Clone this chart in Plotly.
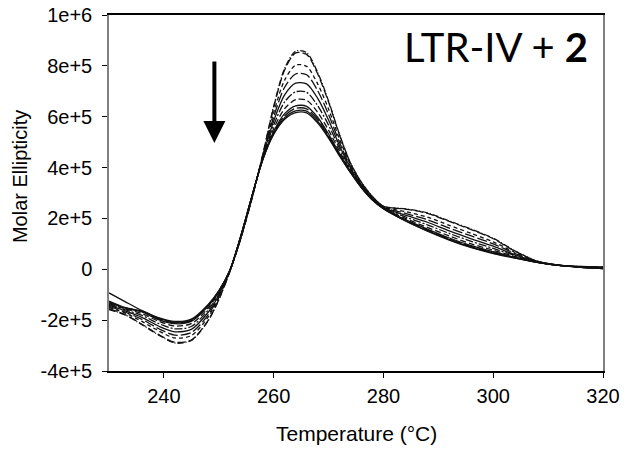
import plotly.graph_objects as go

# Temperature grid (x values)
temperature = [230, 233, 236, 239, 242, 245, 248, 250, 252, 254, 256, 258, 260, 262,
               264, 266, 268, 270, 272, 274, 276, 278, 280, 284, 288, 292, 296, 300,
               304, 308, 312, 316, 320]

# Molar ellipticity series, in units of 1e3
s0 = [-158, -180, -218, -258, -290, -280, -205, -120, -10, 120, 275, 450, 640, 790,
      858, 852, 775, 662, 530, 418, 342, 286, 248, 238, 222, 190, 158, 122, 72, 32, 16, 11, 9]
s1 = [-155, -179, -216, -256, -287, -278, -203, -119, -10, 120, 275, 449, 637, 784,
      851, 845, 769, 658, 528, 417, 341, 286, 248, 237, 220, 188, 156, 120, 71, 32, 16, 11, 9]
s2 = [-150, -173, -205, -242, -270, -261, -190, -112, -9, 122, 277, 445, 615, 744,
      803, 798, 730, 630, 512, 410, 337, 283, 246, 227, 205, 173, 141, 108, 66, 31, 16, 10, 8]
s3 = [-146, -169, -197, -233, -259, -249, -181, -107, -8, 124, 279, 443, 599, 716,
      768, 765, 703, 609, 499, 404, 334, 281, 244, 220, 195, 162, 131, 100, 62, 30, 16, 10, 7]
s4 = [-142, -164, -189, -223, -246, -236, -171, -102, -7, 125, 280, 440, 583, 686,
      732, 729, 673, 587, 486, 399, 331, 279, 243, 213, 185, 151, 120, 91, 57, 29, 15, 9, 6]
s5 = [-138, -160, -181, -213, -234, -225, -162, -97, -7, 127, 282, 437, 567, 658,
      698, 696, 644, 567, 475, 394, 328, 277, 241, 206, 175, 141, 110, 82, 54, 29, 15, 9, 5]
s6 = [-135, -156, -174, -204, -223, -214, -154, -92, -6, 128, 283, 434, 553, 632,
      667, 665, 618, 547, 464, 388, 325, 275, 240, 200, 165, 131, 100, 75, 50, 28, 15, 9, 4]
s7 = [-132, -153, -168, -198, -214, -205, -147, -89, -6, 129, 284, 432, 542, 612,
      643, 641, 598, 532, 455, 385, 322, 273, 239, 195, 158, 123, 93, 69, 47, 28, 15, 8, 4]
s8 = [-128, -152, -166, -195, -211, -202, -145, -87, -5, 129, 284, 431, 538, 604,
      633, 631, 590, 526, 452, 383, 321, 273, 239, 193, 155, 120, 90, 66, 46, 27, 15, 8, 3]
s9 = [-125, -151, -164, -192, -208, -199, -142, -86, -5, 130, 285, 431, 533, 596,
      623, 622, 582, 520, 448, 381, 321, 272, 238, 191, 152, 117, 87, 64, 45, 27, 15, 8, 3]
s10 = [-93, -128, -162, -190, -205, -196, -140, -85, -5, 130, 285, 430, 530, 590,
       616, 615, 576, 516, 446, 380, 320, 272, 238, 190, 150, 115, 85, 62, 44, 27, 15, 8, 3]
series = [s0, s1, s2, s3, s4, s5, s6, s7, s8, s9, s10]
UNIT = 1e3

x_ticks = [240, 260, 280, 300, 320]
y_ticks = [-4e5, -2e5, 0, 2e5, 4e5, 6e5, 8e5, 1e6]
y_tick_text = ["-4e+5", "-2e+5", "0", "2e+5", "4e+5", "6e+5", "8e+5", "1e+6"]

dashes = ["6px,2px,1px,2px", "8px,3px", "4px,3px", "10px,3px", "solid",
          "8px,2px,2px,2px", "6px,3px", "solid", "12px,3px", "solid", "solid"]

fig = go.Figure()
for s, d in zip(series, dashes):
    fig.add_trace(go.Scatter(
        x=temperature, y=[v * UNIT for v in s], mode="lines",
        line=dict(color="#111111", width=1.3, dash=d, shape="spline", smoothing=0.8),
        showlegend=False, hoverinfo="skip"))

font = "Liberation Sans, Arial, sans-serif"
fig.update_layout(
    width=625, height=453,
    margin=dict(l=109, r=22, t=15, b=82, autoexpand=False),
    paper_bgcolor="white", plot_bgcolor="white",
    font=dict(family=font, size=20, color="black"),
    xaxis=dict(range=[230, 320], tickvals=x_ticks, ticks="outside", ticklen=5,
               tickcolor="black", showline=True, linecolor="black", linewidth=1.5,
               mirror=True, showgrid=False, zeroline=False, automargin=False,
               tickfont=dict(size=20), ticklabelstandoff=1),
    yaxis=dict(range=[-4e5, 1e6], tickvals=y_ticks, ticktext=y_tick_text,
               ticks="outside", ticklen=5, tickcolor="black", automargin=False,
               showline=True, linecolor="#808080", linewidth=1.5, mirror=True,
               showgrid=False, zeroline=False, tickfont=dict(size=20),
               ticklabelstandoff=6),
)

fig.add_annotation(text="Temperature (°C)", xref="paper", yref="paper",
                   x=0.5, y=-0.175, yanchor="middle", showarrow=False,
                   font=dict(size=21, family=font))
fig.add_annotation(text="Molar Ellipticity", xref="paper", yref="paper",
                   x=-0.18, y=0.545, xanchor="center", yanchor="middle",
                   textangle=-90, showarrow=False, font=dict(size=20, family=font))
fig.add_annotation(text="LTR-IV + <b>2</b>", xref="x", yref="y",
                   x=300.5, y=8.75e5, showarrow=False,
                   font=dict(size=40, family="Lato, Carlito, Calibri, sans-serif"))
fig.add_annotation(x=249.2, y=4.97e5, ax=249.2, ay=8.23e5, xref="x", yref="y",
                   axref="x", ayref="y", text="", showarrow=True,
                   arrowhead=2, arrowsize=1.1, arrowwidth=4, arrowcolor="black")

fig.write_html("out.html")
